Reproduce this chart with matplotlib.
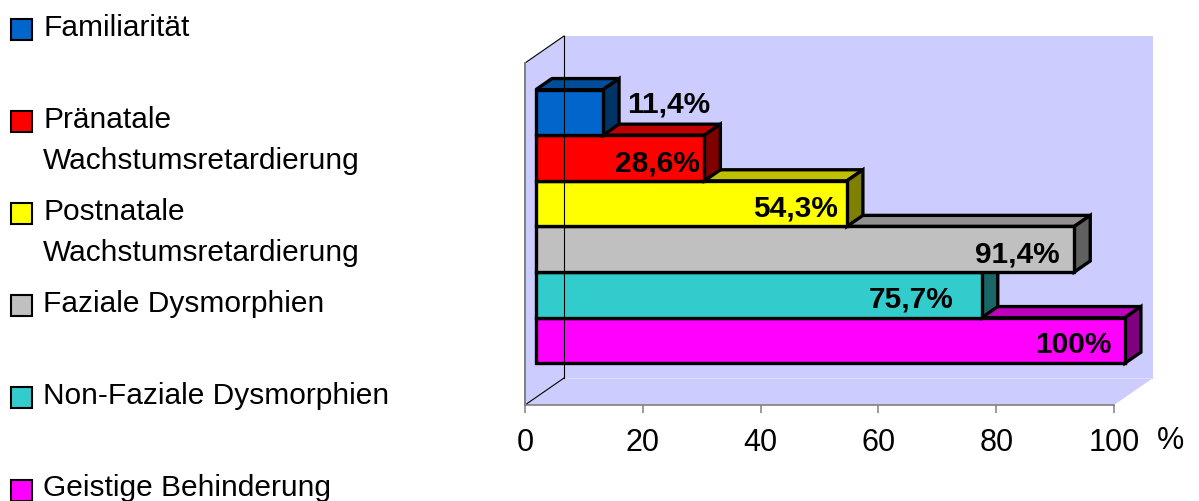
import matplotlib
matplotlib.use("Agg")
import matplotlib.pyplot as plt
from matplotlib.patches import Polygon, Rectangle
from matplotlib.colors import to_rgb

# --- data ---------------------------------------------------------------------
CATEGORIES = ["Familiarität",
              "Pränatale\nWachstumsretardierung",
              "Postnatale\nWachstumsretardierung",
              "Faziale Dysmorphien",
              "Non-Faziale Dysmorphien",
              "Geistige Behinderung"]
# bar lengths as drawn in the picture (the yellow bar is drawn a bit short
# of its printed label)
VALUES = [11.4, 28.6, 52.8, 91.4, 75.7, 100.0]
VALUE_LABELS = ["11,4%", "28,6%", "54,3%", "91,4%", "75,7%", "100%"]
COLORS = ["#0066CC", "#FF0000", "#FFFF00", "#C0C0C0", "#33CCCC", "#FF00FF"]
XTICKS = [0, 20, 40, 60, 80, 100]

# --- style ----------------------------------------------------------------------
W, H = 1199, 501
FONT = "Liberation Sans"
WALL = "#CCCCFF"
DX, DY = 6.62, 0.592          # full depth of the 3D box (x units, y units)
F0, F1 = 0.28, 0.69           # bar front/back as a fraction of the depth
INSET = [None, 0.68, 1.53, 2.55, 4.76, 2.21]   # label right edge inside bar end
YLO, YHI = -0.75, 6.75


def shade(c, f):
    return tuple(v * f for v in to_rgb(c))


def fx(px):
    return px / W


def fy(py):
    return 1 - py / H


plt.rcParams["font.family"] = [FONT, "DejaVu Sans"]
fig = plt.figure(figsize=(W / 100, H / 100), dpi=100)
ax = fig.add_axes([fx(525), fy(405), fx(1114) - fx(525), fy(63) - fy(405)])
ax.set_xlim(0, 100)
ax.set_ylim(YHI, YLO)
ax.patch.set_visible(False)

# walls and floor
back = Polygon([(DX, YLO - DY), (100 + DX, YLO - DY), (100 + DX, YHI - DY),
                (DX, YHI - DY)], closed=True, fc=WALL, ec="none", clip_on=False)
side = Polygon([(0, YLO), (DX, YLO - DY), (DX, YHI - DY), (0, YHI)],
               closed=True, fc=WALL, ec="none", clip_on=False)
floor = Polygon([(0, YHI), (100, YHI), (100 + DX, YHI - DY), (DX, YHI - DY)],
                closed=True, fc=WALL, ec="none", clip_on=False)
for p in (back, side, floor):
    ax.add_patch(p)
ax.plot([DX, 100 + DX], [YHI - DY, YHI - DY], color="#DDDDFF", lw=0.8,
        clip_on=False)
ax.plot([0, DX], [YLO, YLO - DY], color="black", lw=0.8, clip_on=False)
ax.plot([DX, DX], [YLO - DY, YHI - DY], color="black", lw=0.8, clip_on=False)
ax.plot([0, DX], [YHI, YHI - DY], color="black", lw=0.8, clip_on=False)
ax.plot([0, 0], [YLO, YHI], color="#808080", lw=1.4, clip_on=False)

# bars, drawn bottom-up so upper bars overlap the ones below
d = F1 - F0
for i in reversed(range(len(VALUES))):
    v, c = VALUES[i], COLORS[i]
    x0, x1 = F0 * DX, v + F0 * DX
    yt, yb = i - F0 * DY, i + 1 - F0 * DY
    top = Polygon([(x0, yt), (x1, yt), (x1 + d * DX, yt - d * DY),
                   (x0 + d * DX, yt - d * DY)], closed=True,
                  fc=shade(c, 0.75), ec="black", lw=2.4, joinstyle="miter",
                  clip_on=False)
    rside = Polygon([(x1, yt), (x1 + d * DX, yt - d * DY),
                     (x1 + d * DX, yb - d * DY), (x1, yb)], closed=True,
                    fc=shade(c, 0.5), ec="black", lw=2.4, joinstyle="miter",
                    clip_on=False)
    front = Polygon([(x0, yt), (x1, yt), (x1, yb), (x0, yb)], closed=True,
                    fc=c, ec="black", lw=2.4, joinstyle="miter", clip_on=False)
    for p in (top, rside, front):
        ax.add_patch(p)

# value labels
for i, (v, lab) in enumerate(zip(VALUES, VALUE_LABELS)):
    yc = i + 0.5 - F0 * DY
    if INSET[i] is None:
        ax.text(v + F1 * DX + 1.35, yc, lab, ha="left", va="baseline",
                fontsize=21.5, fontweight="bold", clip_on=False)
    else:
        ax.text(v + F0 * DX - INSET[i], yc + 0.285, lab, ha="right",
                va="baseline", fontsize=21.5, fontweight="bold", clip_on=False)

# axis
for s in ("left", "right", "top"):
    ax.spines[s].set_visible(False)
ax.spines["bottom"].set_color("#808080")
ax.spines["bottom"].set_linewidth(1.2)
ax.set_yticks([])
ax.set_xticks(XTICKS, [str(t) for t in XTICKS])
ax.tick_params(axis="x", direction="out", length=5.8, width=1.1,
               color="#808080", labelsize=22, pad=11)
fig.text(fx(1170), fy(441), "%", ha="center", va="center", fontsize=22)

# legend (drawn by hand so the swatch sits on the first text line)
ROW0, STEP, LINE = 36, 92.1, 41
for k, (name, c) in enumerate(zip(CATEGORIES, COLORS)):
    base = ROW0 + k * STEP
    fig.patches.append(Rectangle((fx(11), fy(base + 4)), fx(21), fy(0) - fy(21),
                                 transform=fig.transFigure, fc=c, ec="black",
                                 lw=1.5))
    for j, line in enumerate(name.split("\n")):
        fig.text(fx(43), fy(base + j * LINE), line, ha="left", va="baseline",
                 fontsize=21.5)

fig.savefig("out.png", dpi=100)
